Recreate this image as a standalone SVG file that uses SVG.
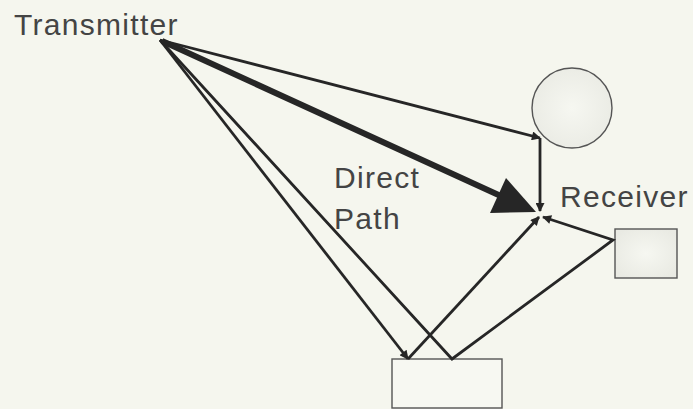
<svg xmlns="http://www.w3.org/2000/svg" width="693" height="409" viewBox="0 0 693 409">
<style>
.lbl{font-family:"Liberation Sans",Arial,sans-serif;font-size:30px;fill:#444;letter-spacing:1.3px}
.ray{fill:none;stroke:#262626;stroke-width:2.8;stroke-linejoin:miter}
.obj{stroke:#555;stroke-width:1.4}
</style>
<defs>
<marker id="ah" viewBox="0 0 10 10" refX="9" refY="5" markerWidth="11" markerHeight="9" markerUnits="userSpaceOnUse" orient="auto">
<path d="M0,0 L10,5 L0,10 z" fill="#262626"/>
</marker>
<radialGradient id="soft" cx="0.5" cy="0.5" r="0.6">
<stop offset="0" stop-color="#f6f7f1"/>
<stop offset="1" stop-color="#e9eae3"/>
</radialGradient>
</defs>
<rect width="693" height="409" fill="#f5f6ee"/>
<g id="transmitter"><text class="lbl" x="14" y="35">Transmitter</text></g>
<g id="scatterer-circle"><circle class="obj" cx="572" cy="108" r="40" fill="url(#soft)" stroke="#808080"/></g>
<g id="receiver-box"><rect class="obj" x="615" y="229" width="62" height="49" fill="url(#soft)"/></g>
<g id="ground-box"><rect class="obj" x="392" y="359" width="110" height="49" fill="#f7f8f2"/></g>
<g id="receiver"><text class="lbl" x="560" y="207">Receiver</text></g>
<g id="direct-label"><text class="lbl" x="334" y="188">Direct</text><text class="lbl" x="334" y="229">Path</text></g>
<g id="connectors">
<polyline class="ray" points="160,40 540,138" marker-end="url(#ah)"/>
<polyline class="ray" points="540,138 540,211" marker-end="url(#ah)"/>
<polyline class="ray" points="160,40 408,359" marker-end="url(#ah)"/>
<polyline class="ray" points="408,359 539,217" marker-end="url(#ah)"/>
<polyline class="ray" points="160,40 452,359 613,240 543,217" marker-end="url(#ah)"/>
<line x1="162" y1="41" x2="503" y2="197" stroke="#262626" stroke-width="6"/>
<polygon points="536,212 490,213 506,178" fill="#262626"/>
</g>
</svg>
